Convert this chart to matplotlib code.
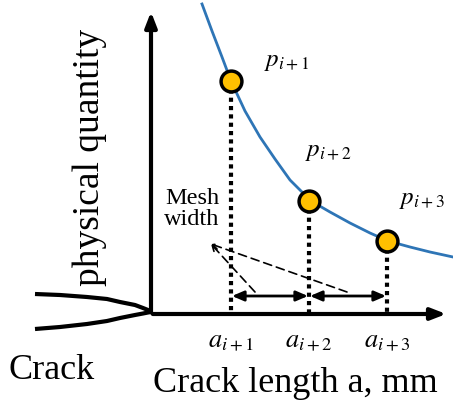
import numpy as np
import matplotlib
matplotlib.use("Agg")
import matplotlib.pyplot as plt

plt.rcParams['font.family'] = ['Liberation Serif', 'DejaVu Serif']
plt.rcParams['mathtext.fontset'] = 'stix'

# curve (pixel coords, y down)
curve_x = [202, 212, 222, 231, 245, 260, 275, 290, 311, 330, 350, 370, 388, 410, 430, 453]
curve_y = [5, 32, 58, 82, 112, 138, 160, 181, 202, 213, 224, 234, 242, 248, 253, 258]

# the three sample points
pt_x = [231, 309, 387]
pt_y = [82, 202, 242]
p_labels = [r'$p_{i+1}$', r'$p_{i+2}$', r'$p_{i+3}$']
a_labels = [r'$a_{i+1}$', r'$a_{i+2}$', r'$a_{i+3}$']

# crack faces
crack_x = [35, 60, 87, 107, 120, 135, 143, 148, 151]
crack_up = [295, 296, 298, 300, 303, 306, 309, 311, 313]
crack_lo = [330, 328, 325, 322, 319, 316, 314.5, 313.5, 313]

fig = plt.figure(figsize=(4.53, 4.10), dpi=100)
ax = fig.add_axes([0, 0, 1, 1])
ax.set_xlim(0, 453)
ax.set_ylim(410, 0)
ax.axis('off')

x0, y0 = 151, 315

# axes arrows
ax.annotate('', xy=(x0, 10), xytext=(x0, y0 + 1),
            arrowprops=dict(arrowstyle='-|>,head_length=0.9,head_width=0.35', lw=3, color='black'))
ax.annotate('', xy=(449, y0), xytext=(x0 - 1, y0),
            arrowprops=dict(arrowstyle='-|>,head_length=0.9,head_width=0.35', lw=3, color='black'))

ax.plot(crack_x, crack_up, color='black', lw=3, solid_capstyle='butt')
ax.plot(crack_x, crack_lo, color='black', lw=3, solid_capstyle='butt')

# curve
ax.plot(curve_x, curve_y, color='#2E75B6', lw=2, zorder=2)

# dotted droplines
for x, y in zip(pt_x, pt_y):
    ax.plot([x, x], [y, y0], color='black', lw=3, linestyle=(0, (1, 1)), zorder=1)

ax.plot(pt_x, pt_y, 'o', ms=15, mfc='#FFC000', mec='black', mew=2.5, zorder=3)

# mesh width double arrows
for xa, xb in zip(pt_x[:-1], pt_x[1:]):
    ax.annotate('', xy=(xb - 1, 297), xytext=(xa + 1, 297),
                arrowprops=dict(arrowstyle='<|-|>,head_length=0.7,head_width=0.3', lw=2, color='black',
                                shrinkA=0, shrinkB=0))

# dashed pointers
for xe in [255, 347]:
    ax.annotate('', xy=(211, 245), xytext=(xe, 293),
                arrowprops=dict(arrowstyle='->', lw=1.2, color='black', linestyle=(0, (5, 3)),
                                shrinkA=0, shrinkB=0))

ax.text(192, 209, 'Mesh\nwidth', fontsize=17.5, ha='center', va='center', linespacing=1.0)

for (x, y), lab in zip([(287, 62), (328, 152), (422, 200)], p_labels):
    ax.text(x, y, lab, fontsize=18, ha='center', va='center')
for x, lab in zip(pt_x, a_labels):
    ax.text(x, 343, lab, fontsize=19, ha='center', va='center')

ax.text(90, 157, 'physical quantity', fontsize=27, rotation=90, ha='center', va='center')
ax.text(52, 371, 'Crack', fontsize=26, ha='center', va='center')
ax.text(295, 384, 'Crack length a, mm', fontsize=26, ha='center', va='center')

fig.savefig('out.png', dpi=100)
